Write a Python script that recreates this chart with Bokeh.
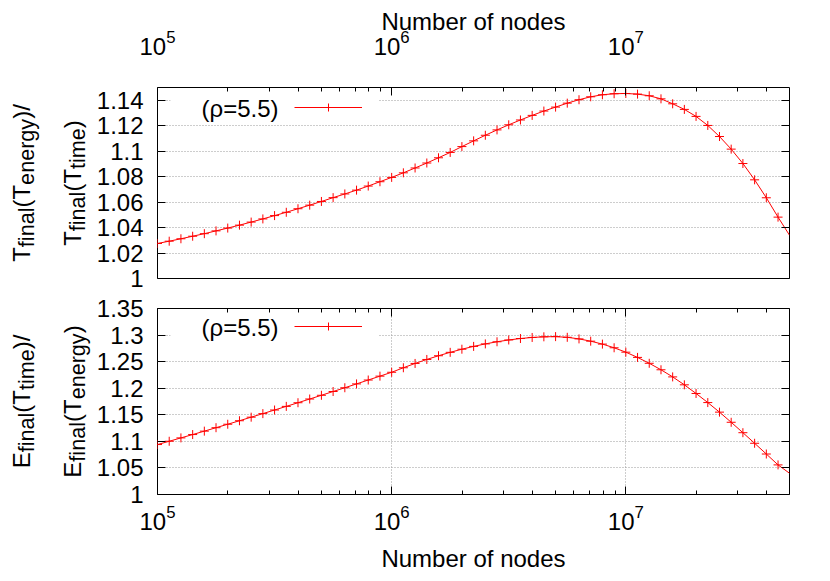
import math
from bokeh.plotting import figure
from bokeh.models import (Range1d, FixedTicker, LogAxis, LinearAxis, CustomJSTickFormatter,
                          LogTickFormatter, Label, Legend, LegendItem, BoxAnnotation)
from bokeh.core.properties import value
from bokeh.layouts import column, row
from bokeh.embed import file_html
from bokeh.resources import INLINE

# ---------------- data ----------------
nodes = [1.000e5, 1.122e5, 1.259e5, 1.413e5, 1.585e5, 1.778e5, 1.995e5, 2.239e5, 2.512e5, 2.818e5,
         3.162e5, 3.548e5, 3.981e5, 4.467e5, 5.012e5, 5.623e5, 6.310e5, 7.079e5, 7.943e5, 8.913e5,
         1.000e6, 1.122e6, 1.259e6, 1.413e6, 1.585e6, 1.778e6, 1.995e6, 2.239e6, 2.512e6, 2.818e6,
         3.162e6, 3.548e6, 3.981e6, 4.467e6, 5.012e6, 5.623e6, 6.310e6, 7.079e6, 7.943e6, 8.913e6,
         1.000e7, 1.122e7, 1.259e7, 1.413e7, 1.585e7, 1.778e7, 1.995e7, 2.239e7, 2.512e7, 2.818e7,
         3.162e7, 3.548e7, 3.981e7, 4.467e7]

t_ratio = [1.0275, 1.0293, 1.0312, 1.0332, 1.0352, 1.0374, 1.0396, 1.0419, 1.0443, 1.0468,
           1.0494, 1.0520, 1.0548, 1.0576, 1.0605, 1.0635, 1.0664, 1.0694, 1.0726, 1.0760,
           1.0794, 1.0830, 1.0868, 1.0907, 1.0948, 1.0990, 1.1036, 1.1081, 1.1125, 1.1167,
           1.1207, 1.1245, 1.1281, 1.1315, 1.1346, 1.1377, 1.1404, 1.1427, 1.1443, 1.1451,
           1.1453, 1.1448, 1.1435, 1.1411, 1.1372, 1.1328, 1.1273, 1.1202, 1.1115, 1.1016,
           1.0903, 1.0775, 1.0634, 1.0482]

e_ratio = [1.0940, 1.1002, 1.1065, 1.1128, 1.1192, 1.1257, 1.1322, 1.1388, 1.1455, 1.1522,
           1.1590, 1.1658, 1.1727, 1.1797, 1.1867, 1.1938, 1.2009, 1.2081, 1.2154, 1.2227,
           1.2300, 1.2385, 1.2466, 1.2541, 1.2611, 1.2675, 1.2734, 1.2787, 1.2834, 1.2874,
           1.2908, 1.2935, 1.2955, 1.2967, 1.2971, 1.2958, 1.2928, 1.2885, 1.2830, 1.2761,
           1.2678, 1.2580, 1.2469, 1.2347, 1.2213, 1.2064, 1.1901, 1.1730, 1.1550, 1.1359,
           1.1163, 1.0964, 1.0762, 1.0557]

# the curve continues (without a point marker) to the right edge
end_nodes = 5.0e7
t_ratio_end = 1.034
e_ratio_end = 1.040

x_major_ticks = [1e5, 1e6, 1e7]
x_minor_ticks = [2e5, 3e5, 4e5, 5e5, 6e5, 7e5, 8e5, 9e5,
                 2e6, 3e6, 4e6, 5e6, 6e6, 7e6, 8e6, 9e6,
                 2e7, 3e7, 4e7]
top_y_ticks = [1.0, 1.02, 1.04, 1.06, 1.08, 1.10, 1.12, 1.14]
bottom_y_ticks = [1.0, 1.05, 1.10, 1.15, 1.20, 1.25, 1.30, 1.35]
x_label = "Number of nodes"
legend_text = "(ρ=5.5)"
top_ylabel = [[("T", False), ("final", True), ("(T", False), ("energy", True), (")/", False)],
              [("T", False), ("final", True), ("(T", False), ("time", True), (")", False)]]
bottom_ylabel = [[("E", False), ("final", True), ("(T", False), ("time", True), (")/", False)],
                 [("E", False), ("final", True), ("(T", False), ("energy", True), (")", False)]]

# ---------------- style / layout ----------------
FONT = "Liberation Sans"
FS = 24
RED = "#ff0000"
LW = 92                      # width of the y-label strip
MW = 722                     # width of the plotting figure
LEFT, RIGHT = 157 - LW, 25
TOP1, BOT1 = 87, 15
TOP2, BOT2 = 15, 80
TOP_FRAME_H, BOT_FRAME_H = 191, 186
H1 = TOP1 + TOP_FRAME_H + BOT1
H2 = TOP2 + BOT_FRAME_H + BOT2

ARIAL = {"T": .611, "E": .667, "f": .278, "i": .222, "n": .556, "a": .556, "l": .222,
         "(": .333, ")": .333, "/": .278, "e": .556, "r": .333, "g": .556, "y": .5,
         "t": .278, "m": .833}


def text_w(s, size):
    return sum(ARIAL.get(c, .556) for c in s) * size


blank = CustomJSTickFormatter(code="return '';")
yfmt = CustomJSTickFormatter(code="return parseFloat(tick.toFixed(2)).toString();")


def style_axis(ax, labels=True):
    ax.axis_line_color = None
    ax.major_tick_in = 8
    ax.major_tick_out = 0
    ax.minor_tick_in = 4
    ax.minor_tick_out = 0
    ax.major_tick_line_color = "black"
    ax.minor_tick_line_color = "black"
    ax.major_label_text_font = FONT
    ax.major_label_text_font_size = f"{FS}px" if labels else "1px"
    ax.major_label_text_color = "black"
    ax.axis_label_text_font = FONT
    ax.axis_label_text_font_size = f"{FS}px"
    ax.axis_label_text_font_style = "normal"
    ax.axis_label_text_color = "black"


def make_fig(yr, yticks, height, top, bottom, xloc):
    p = figure(width=MW, height=height, x_axis_type="log", x_range=Range1d(1e5, 5e7),
               y_range=Range1d(*yr), x_axis_location=xloc,
               output_backend="svg", toolbar_location=None,
               min_border_left=LEFT, min_border_right=RIGHT,
               min_border_top=top, min_border_bottom=bottom)
    p.outline_line_color = "black"
    p.outline_line_width = 1
    p.background_fill_color = "white"
    p.border_fill_color = "white"
    p.xaxis.ticker = FixedTicker(ticks=x_major_ticks, minor_ticks=x_minor_ticks)
    p.xaxis.formatter = LogTickFormatter()
    p.xaxis.axis_label = x_label
    p.yaxis.ticker = FixedTicker(ticks=yticks)
    p.yaxis.formatter = yfmt
    p.yaxis.major_label_standoff = 14
    style_axis(p.xaxis[0])
    style_axis(p.yaxis[0])
    ra = LinearAxis(ticker=FixedTicker(ticks=yticks), formatter=blank, major_label_standoff=0)
    style_axis(ra, labels=False)
    p.add_layout(ra, "right")
    p.ygrid.ticker = FixedTicker(ticks=yticks)
    for g in (p.xgrid, p.ygrid):
        g.grid_line_color = "#9a9a9a"
        g.grid_line_dash = "1 2"
        g.grid_line_width = 1
    return p


def add_curve(p, ys, y_end, legend_y):
    xs_line = nodes + [end_nodes]
    ys_line = ys + [y_end]
    lr = p.line(xs_line, ys_line, line_color=RED, line_width=1)
    sr = p.scatter(nodes, ys, marker="cross", size=9, line_color=RED, line_width=1)
    # opaque key background
    p.add_layout(BoxAnnotation(left=13, right=221, bottom=legend_y - 14, top=legend_y + 14,
                               left_units="screen", right_units="screen",
                               bottom_units="screen", top_units="screen",
                               fill_color="white", fill_alpha=1, line_color=None))
    p.add_layout(Label(x=121, y=legend_y, x_units="screen", y_units="screen", text=legend_text,
                       text_font=FONT, text_font_size=f"{FS}px", text_align="right",
                       text_baseline="middle", text_color="black"))
    leg = Legend(items=[LegendItem(label=" ", renderers=[lr, sr])],
                 location=(137, legend_y - 9), glyph_width=68, glyph_height=20,
                 label_height=20, label_text_font_size="1px", padding=0, margin=0,
                 border_line_color=None, background_fill_alpha=0)
    p.add_layout(leg)


def label_strip(lines, height, top, bottom, frame_h, xs, size=FS, sub_scale=0.9, sub_shift=5):
    # the strip's frame is aligned with the neighbouring plot's frame
    lf = figure(width=LW, height=height, x_range=Range1d(0, LW), y_range=Range1d(0, frame_h),
                x_axis_location=None, y_axis_location=None,
                output_backend="svg", toolbar_location=None,
                min_border_left=0, min_border_right=0,
                min_border_top=top, min_border_bottom=bottom)
    lf.grid.visible = False
    lf.outline_line_color = None
    lf.background_fill_color = "white"
    lf.border_fill_color = "white"
    yc = frame_h / 2
    for parts, xb in zip(lines, xs):
        total = sum(text_w(t, size * (sub_scale if s else 1)) for t, s in parts)
        y = yc - total / 2
        for t, s in parts:
            sz = size * (sub_scale if s else 1)
            lf.text(x=[xb + (sub_shift if s else 0)], y=[y], text=[t], angle=math.pi / 2,
                    text_font=value(FONT), text_font_size=value(f"{sz:.1f}px"),
                    text_align="left", text_baseline="alphabetic", text_color="black")
            y += text_w(t, sz)
    return lf


# ---------------- top panel ----------------
p1 = make_fig((1.0, 1.15), top_y_ticks, H1, TOP1, BOT1, "above")
p1.xgrid.visible = False
p1.xaxis.major_label_standoff = 33
p1.xaxis.axis_label_standoff = -8
add_curve(p1, t_ratio, t_ratio_end, 170)
l1 = label_strip(top_ylabel, H1, TOP1, BOT1, TOP_FRAME_H, [21, 72])

# ---------------- bottom panel ----------------
p2 = make_fig((1.0, 1.35), bottom_y_ticks, H2, TOP2, BOT2, "below")
p2.xgrid.ticker = FixedTicker(ticks=x_major_ticks)
p2.xaxis.major_label_standoff = 10
p2.xaxis.axis_label_standoff = 12
ta = LogAxis(ticker=FixedTicker(ticks=x_major_ticks, minor_ticks=x_minor_ticks),
             formatter=blank, major_label_standoff=0)
style_axis(ta, labels=False)
p2.add_layout(ta, "above")
add_curve(p2, e_ratio, e_ratio_end, 167)
l2 = label_strip(bottom_ylabel, H2, TOP2, BOT2, BOT_FRAME_H, [21, 72])

layout = column(row(l1, p1), row(l2, p2))
open("out.html", "w").write(file_html(layout, INLINE))
